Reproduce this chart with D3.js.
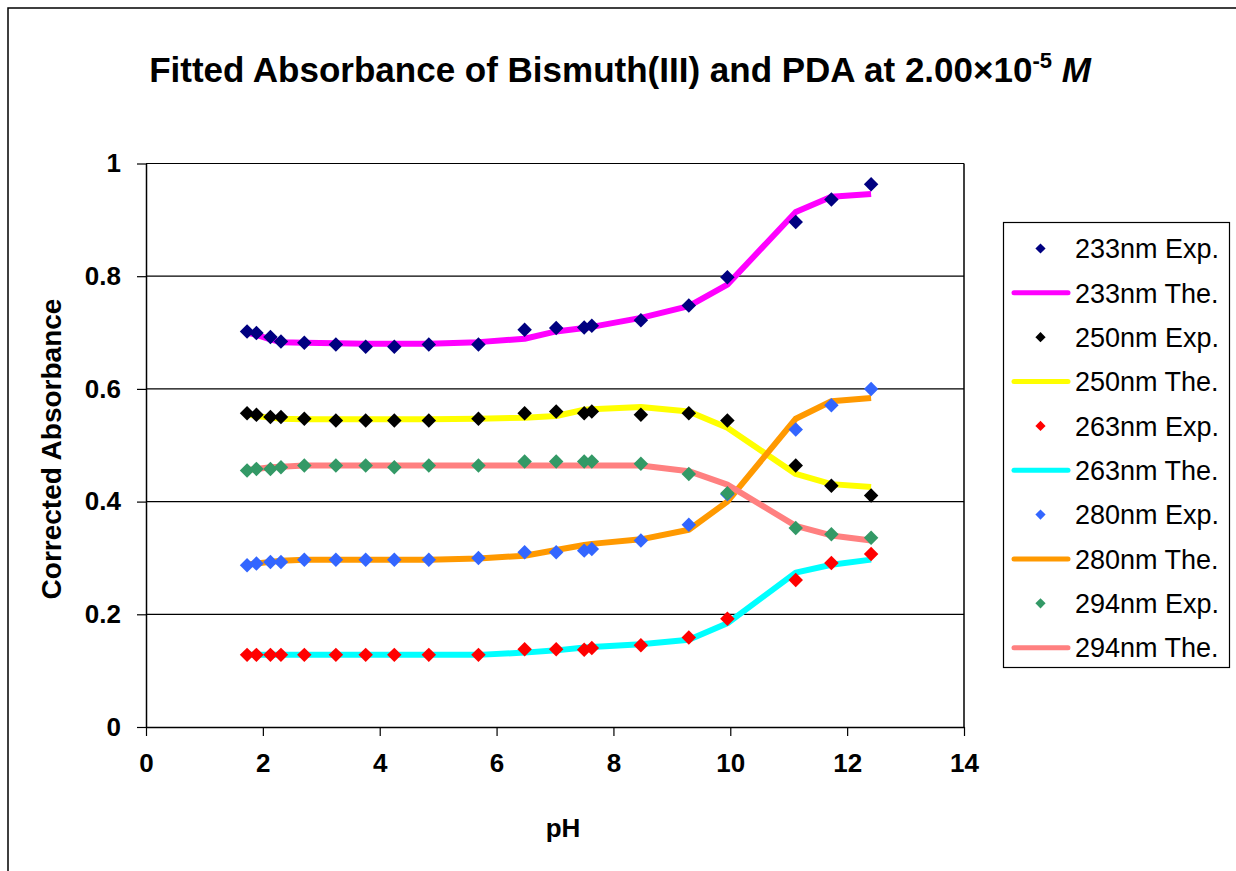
<!DOCTYPE html>
<html>
<head>
<meta charset="utf-8">
<script src="https://cdn.jsdelivr.net/npm/d3@7"></script>
<style>
  html, body { margin: 0; padding: 0; background: #fff; }
  svg { display: block; font-family: "Liberation Sans", Arial, sans-serif; }
</style>
</head>
<body>
<svg id="chart" width="1236" height="871"></svg>
<script>
// pH of each measured solution
const pH = [1.73, 1.89, 2.13, 2.31, 2.71, 3.25, 3.76, 4.25, 4.84, 5.69,
            6.48, 7.02, 7.50, 7.63, 8.47, 9.29, 9.95, 11.12, 11.73, 12.41];

// Experimental and fitted (theoretical) corrected absorbance per wavelength
const exp233 = [0.702, 0.699, 0.692, 0.684, 0.682, 0.679, 0.675, 0.675, 0.679, 0.679,
                0.705, 0.708, 0.709, 0.712, 0.722, 0.748, 0.798, 0.896, 0.936, 0.963];
const the233 = [0.700, 0.696, 0.688, 0.683, 0.682, 0.681, 0.680, 0.680, 0.680, 0.683,
                0.689, 0.702, 0.708, 0.710, 0.726, 0.747, 0.785, 0.914, 0.941, 0.946];
const exp250 = [0.557, 0.554, 0.550, 0.550, 0.547, 0.544, 0.544, 0.544, 0.544, 0.547,
                0.557, 0.560, 0.557, 0.560, 0.554, 0.557, 0.544, 0.464, 0.428, 0.411];
const the250 = [0.555, 0.552, 0.549, 0.547, 0.546, 0.546, 0.546, 0.546, 0.546, 0.547,
                0.549, 0.552, 0.563, 0.564, 0.568, 0.560, 0.531, 0.449, 0.431, 0.426];
const exp263 = [0.128, 0.128, 0.128, 0.128, 0.128, 0.128, 0.128, 0.128, 0.128, 0.128,
                0.138, 0.138, 0.137, 0.140, 0.145, 0.159, 0.192, 0.261, 0.291, 0.307];
const the263 = [0.128, 0.128, 0.128, 0.128, 0.128, 0.128, 0.128, 0.128, 0.128, 0.128,
                0.132, 0.136, 0.141, 0.142, 0.147, 0.155, 0.184, 0.274, 0.288, 0.297];
const exp280 = [0.287, 0.290, 0.293, 0.293, 0.297, 0.297, 0.297, 0.297, 0.297, 0.300,
                0.310, 0.310, 0.313, 0.316, 0.331, 0.359, 0.413, 0.528, 0.571, 0.600];
const the280 = [0.288, 0.290, 0.293, 0.295, 0.297, 0.297, 0.297, 0.297, 0.297, 0.299,
                0.304, 0.314, 0.323, 0.325, 0.333, 0.350, 0.400, 0.547, 0.578, 0.584];
const exp294 = [0.455, 0.458, 0.458, 0.461, 0.464, 0.464, 0.464, 0.461, 0.464, 0.464,
                0.471, 0.471, 0.471, 0.471, 0.467, 0.449, 0.415, 0.353, 0.342, 0.336];
const the294 = [0.456, 0.458, 0.461, 0.462, 0.464, 0.464, 0.464, 0.464, 0.464, 0.464,
                0.464, 0.464, 0.464, 0.464, 0.464, 0.454, 0.430, 0.357, 0.340, 0.331];

const wavelengths = ["233nm", "250nm", "263nm", "280nm", "294nm"];
const expSeries = [exp233, exp250, exp263, exp280, exp294];
const theSeries = [the233, the250, the263, the280, the294];
const expColors = ["#000080", "#000000", "#FF0000", "#3366FF", "#339966"];
const theColors = ["#FF00FF", "#FFFF00", "#00FFFF", "#FF9900", "#FF8080"];

const xTicks = [0, 2, 4, 6, 8, 10, 12, 14];
const yTicks = [0, 0.2, 0.4, 0.6, 0.8, 1];

const svg = d3.select("#chart");

// chart-area frame
svg.append("rect")
  .attr("x", 8).attr("y", 8).attr("width", 1260).attr("height", 900)
  .attr("fill", "#fff").attr("stroke", "#000").attr("stroke-width", 1.5);

const plot = { left: 146, right: 964, top: 163.5, bottom: 727 };

const x = d3.scaleLinear().domain([0, 14]).range([plot.left, plot.right]);
const y = d3.scaleLinear().domain([0, 1]).range([plot.bottom, plot.top]);

// horizontal gridlines
svg.append("g")
  .selectAll("line")
  .data(yTicks.filter(d => d > 0))
  .join("line")
  .attr("x1", plot.left).attr("x2", plot.right)
  .attr("y1", d => y(d)).attr("y2", d => y(d))
  .attr("stroke", "#000").attr("stroke-width", 1.2);

// right border of the plot area
svg.append("line")
  .attr("x1", plot.right).attr("x2", plot.right)
  .attr("y1", plot.top).attr("y2", plot.bottom)
  .attr("stroke", "#000").attr("stroke-width", 1.5);

// axes
const xAxis = svg.append("g")
  .attr("transform", `translate(0,${plot.bottom})`)
  .call(d3.axisBottom(x).tickValues(xTicks).tickSize(9).tickPadding(18).tickSizeOuter(0));
const yAxis = svg.append("g")
  .attr("transform", `translate(${plot.left},0)`)
  .call(d3.axisLeft(y).tickValues(yTicks).tickSize(9).tickPadding(16).tickSizeOuter(0)
        .tickFormat(d => (d === 0 || d === 1) ? String(d) : d.toFixed(1)));

[xAxis, yAxis].forEach(g => {
  g.select(".domain").attr("stroke", "#000").attr("stroke-width", 1.5);
  g.selectAll(".tick line").attr("stroke", "#000").attr("stroke-width", 1.2);
  g.selectAll(".tick text")
    .attr("fill", "#000")
    .style("font-family", "'Liberation Sans', Arial, sans-serif")
    .style("font-weight", "bold")
    .style("font-size", "26px");
});

// axis titles
svg.append("text")
  .attr("x", (plot.left + plot.right) / 2 + 8).attr("y", 837)
  .attr("text-anchor", "middle")
  .style("font-weight", "bold").style("font-size", "26px")
  .text("pH");

svg.append("text")
  .attr("transform", `translate(61,449) rotate(-90)`)
  .attr("text-anchor", "middle")
  .style("font-weight", "bold").style("font-size", "28px")
  .text("Corrected Absorbance");

// title
const title = svg.append("text")
  .attr("x", 620).attr("y", 82)
  .attr("text-anchor", "middle")
  .style("font-weight", "bold").style("font-size", "35px");
title.append("tspan").text("Fitted Absorbance of Bismuth(III) and PDA at 2.00\u00D710");
title.append("tspan").attr("dy", -14).style("font-size", "22px").text("-5");
title.append("tspan").attr("dy", 14).text(" ");
title.append("tspan").style("font-style", "italic").text("M");

// fitted curves
const line = d3.line().x((d, i) => x(pH[i])).y(d => y(d));
svg.append("g")
  .selectAll("path")
  .data(theSeries)
  .join("path")
  .attr("d", d => line(d))
  .attr("fill", "none")
  .attr("stroke", (d, i) => theColors[i])
  .attr("stroke-width", 6)
  .attr("stroke-linejoin", "round")
  .attr("stroke-linecap", "butt");

// experimental points (diamonds)
const diamond = d3.symbol().type(d3.symbolSquare).size(105);
const diamondSmall = d3.symbol().type(d3.symbolSquare).size(52);
expSeries.forEach((series, k) => {
  svg.append("g")
    .selectAll("path")
    .data(series)
    .join("path")
    .attr("d", diamond)
    .attr("transform", (d, i) => `translate(${x(pH[i])},${y(d)}) rotate(45)`)
    .attr("fill", expColors[k]);
});

// legend
const legend = svg.append("g");
legend.append("rect")
  .attr("x", 1003.5).attr("y", 222.5).attr("width", 226).attr("height", 445)
  .attr("fill", "#fff").attr("stroke", "#000").attr("stroke-width", 1.2);

const entries = [];
wavelengths.forEach((w, k) => {
  entries.push({ label: w + " Exp.", type: "exp", color: expColors[k] });
  entries.push({ label: w + " The.", type: "the", color: theColors[k] });
});

const rowY = i => 248.5 + i * 44.35;
const row = legend.selectAll("g.entry")
  .data(entries)
  .join("g")
  .attr("class", "entry")
  .attr("transform", (d, i) => `translate(0,${rowY(i)})`);

row.filter(d => d.type === "exp")
  .append("path")
  .attr("d", diamondSmall)
  .attr("transform", "translate(1040.5,0) rotate(45)")
  .attr("fill", d => d.color);

row.filter(d => d.type === "the")
  .append("line")
  .attr("x1", 1014).attr("x2", 1068)
  .attr("y1", 0).attr("y2", 0)
  .attr("stroke", d => d.color)
  .attr("stroke-width", 5)
  .attr("stroke-linecap", "round");

row.append("text")
  .attr("x", 1075).attr("y", 0).attr("dy", "0.36em")
  .style("font-size", "27px")
  .text(d => d.label);
</script>
</body>
</html>
